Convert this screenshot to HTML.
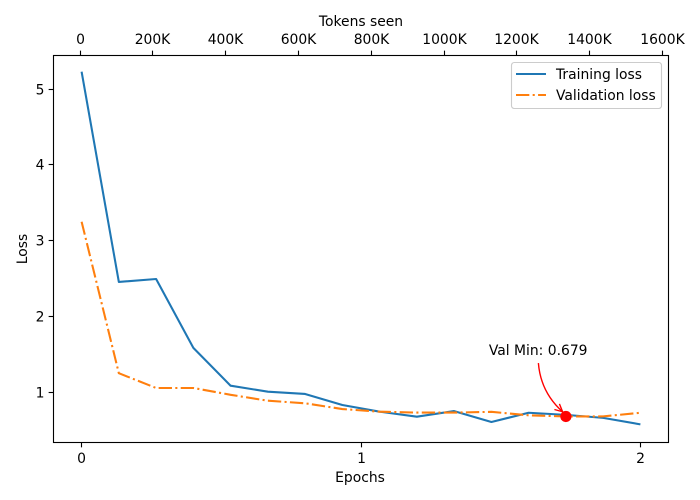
<!DOCTYPE html>
<html>
<head>
<meta charset="utf-8">
<title>Training and validation loss</title>
<style>
html,body{margin:0;padding:0;background:#fff;width:700px;height:500px;overflow:hidden}
svg{display:block}
text{font-family:"DejaVu Sans","Liberation Sans",sans-serif;font-size:13.89px;fill:#000}
</style>
</head>
<body>
<svg id="chart" xmlns="http://www.w3.org/2000/svg" width="700" height="500" viewBox="0 0 700 500"></svg>
<script>
const epochs = [0, 0.1333, 0.2667, 0.4, 0.5333, 0.6667, 0.8, 0.9333, 1.0667, 1.2, 1.3333, 1.4667, 1.6, 1.7333, 1.8667, 2];
const trainingLoss = [5.23, 2.455, 2.494, 1.585, 1.085, 1.006, 0.976, 0.83, 0.742, 0.676, 0.75, 0.606, 0.728, 0.7, 0.66, 0.575];
const validationLoss = [3.25, 1.25, 1.055, 1.055, 0.965, 0.887, 0.853, 0.777, 0.742, 0.73, 0.73, 0.74, 0.694, 0.679, 0.68, 0.728];
const epochTicks = [0, 1, 2];
const lossTicks = [1, 2, 3, 4, 5];
const tokenTicks = [0, 200, 400, 600, 800, 1000, 1200, 1400, 1600];

const plot = {left: 53.5, right: 668.5, top: 55.5, bottom: 442.5};
const xScale = v => 81.6 + v * 279.4;
const yScale = v => 467.9 - v * 75.75;
const tokenScale = v => 80 + v * 0.364;

const svg = document.getElementById('chart');
const NS = 'http://www.w3.org/2000/svg';
function make(tag, attrs, parent) {
  const el = document.createElementNS(NS, tag);
  for (const k in attrs) el.setAttribute(k, attrs[k]);
  (parent || svg).appendChild(el);
  return el;
}
function path(values) {
  return values.map((v, i) => (i ? 'L' : 'M') + xScale(epochs[i]).toFixed(2) + ' ' + yScale(v).toFixed(2)).join(' ');
}

const bg = make('rect', {x: plot.left, y: plot.top, width: plot.right - plot.left, height: plot.bottom - plot.top, fill: '#fff'});



const trainLine = make('path', {d: path(trainingLoss), fill: 'none', stroke: '#1f77b4', 'stroke-width': 2.08, 'stroke-linejoin': 'round'});



const valLine = make('path', {d: path(validationLoss), fill: 'none', stroke: '#ff7f0e', 'stroke-width': 2.08, 'stroke-dasharray': '13.33 3.33 2.08 3.33', 'stroke-linejoin': 'round'});



const frame = make('rect', {x: plot.left, y: plot.top, width: plot.right - plot.left, height: plot.bottom - plot.top, fill: 'none', stroke: '#000', 'stroke-width': 1.11});



epochTicks.forEach(t => {
  const x = Math.floor(xScale(t)) + 0.5;
  const tick = make('line', {x1: x, x2: x, y1: plot.bottom, y2: plot.bottom + 4.86, stroke: '#000', 'stroke-width': 1.11});
  
  
  const label = make('text', {x: x, y: 463, 'text-anchor': 'middle'});
  label.textContent = String(t);
  
  
});

lossTicks.forEach(t => {
  const y = Math.floor(yScale(t)) + 0.5;
  const tick = make('line', {x1: plot.left - 4.86, x2: plot.left, y1: y, y2: y, stroke: '#000', 'stroke-width': 1.11});
  
  
  const label = make('text', {x: 44.5, y: y + 5, 'text-anchor': 'end'});
  label.textContent = String(t);
  
  
});

tokenTicks.forEach(t => {
  const x = Math.floor(tokenScale(t)) + 0.5;
  const tick = make('line', {x1: x, x2: x, y1: plot.top - 4.86, y2: plot.top, stroke: '#000', 'stroke-width': 1.11});
  
  
  const label = make('text', {x: x, y: 44, 'text-anchor': 'middle'});
  label.textContent = t === 0 ? '0' : t + 'K';
  
  
});

const xTitle = make('text', {x: 360, y: 482, 'text-anchor': 'middle'});
xTitle.textContent = 'Epochs';



const topTitle = make('text', {x: 361, y: 26, 'text-anchor': 'middle'});
topTitle.textContent = 'Tokens seen';



const yTitle = make('text', {x: 0, y: 0, 'text-anchor': 'middle', transform: 'translate(27 249) rotate(-90)'});
yTitle.textContent = 'Loss';



/* minimum of validation loss: marker and annotation */
const minVal = Math.min(...validationLoss);
const minIdx = validationLoss.indexOf(minVal);
const mx = xScale(epochs[minIdx]);
const my = yScale(minVal);

const sx = mx - 27.5, sy = my - 53.4;
const ex = mx - 3.3, ey = my - 4.7;
const midx = (sx + ex) / 2, midy = (sy + ey) / 2;
const cx = midx - 0.2 * (ey - sy), cy = midy + 0.2 * (ex - sx);
const arrow = make('path', {d: `M${sx} ${sy} Q${cx} ${cy} ${ex} ${ey}`, fill: 'none', stroke: '#f00', 'stroke-width': 1.39});



const ang = Math.atan2(ey - cy, ex - cx);
const hl = 8.5, spread = 0.46;
const head = make('path', {
  d: `M${ex - hl * Math.cos(ang - spread)} ${ey - hl * Math.sin(ang - spread)} L${ex} ${ey} L${ex - hl * Math.cos(ang + spread)} ${ey - hl * Math.sin(ang + spread)}`,
  fill: 'none', stroke: '#f00', 'stroke-width': 1.39
});



const marker = make('circle', {cx: mx, cy: my, r: 5.6, fill: '#f00'});



const note = make('text', {x: mx - 77, y: my - 61.4});
note.textContent = 'Val Min: ' + minVal.toFixed(3);



/* legend */
const legend = make('g', {});



const legendBox = make('rect', {x: 511.5, y: 62.5, width: 150, height: 46, rx: 2.8, ry: 2.8, fill: '#fff', 'fill-opacity': 0.8, stroke: '#ccc', 'stroke-width': 1.11}, legend);



const trainKey = make('line', {x1: 516, x2: 546, y1: 74, y2: 74, stroke: '#1f77b4', 'stroke-width': 2.08}, legend);



const trainText = make('text', {x: 556, y: 79}, legend);
trainText.textContent = 'Training loss';



const valKey = make('line', {x1: 516, x2: 546, y1: 95, y2: 95, stroke: '#ff7f0e', 'stroke-width': 2.08, 'stroke-dasharray': '13.33 3.33 2.08 3.33'}, legend);



const valText = make('text', {x: 556, y: 100}, legend);
valText.textContent = 'Validation loss';


</script>
</body>
</html>
